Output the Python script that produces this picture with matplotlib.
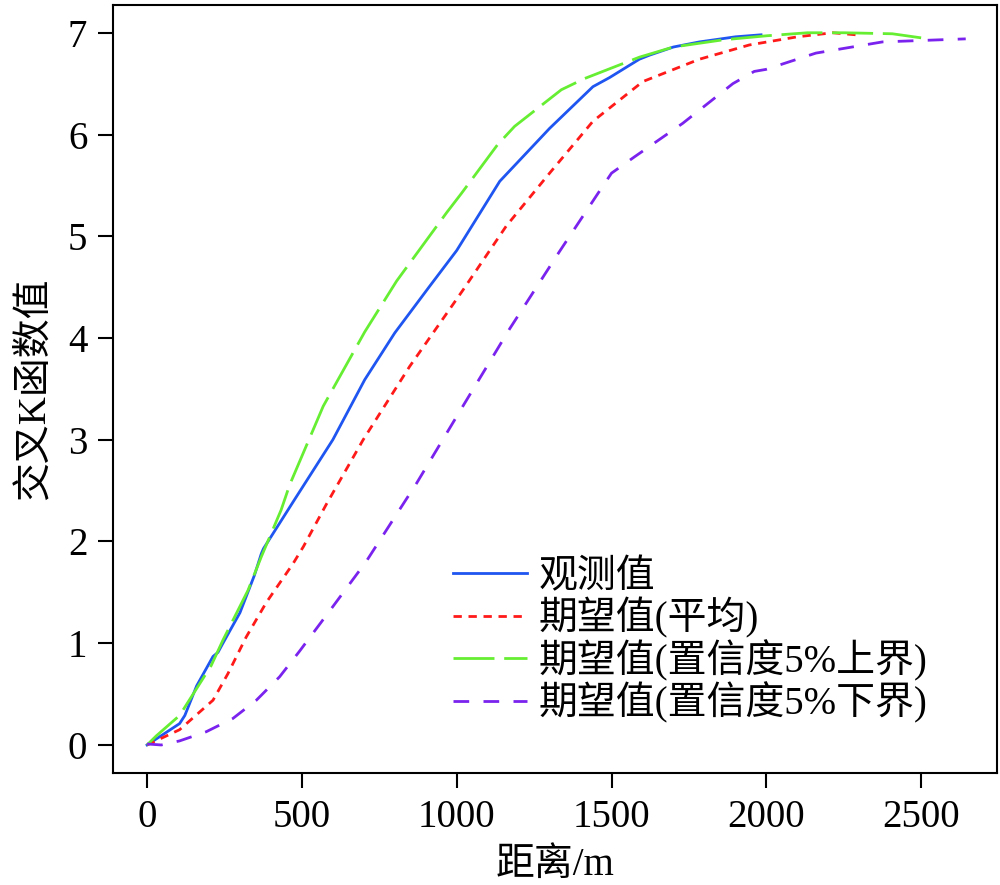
import numpy as np
import matplotlib
matplotlib.use("Agg")
import matplotlib.pyplot as plt

# ---- Data ---- #
obs_d = [0, 50, 105, 122, 160, 213, 229, 245, 300, 347, 369, 376, 476, 600, 703, 800,
         913, 1000, 1139, 1235, 1300, 1440, 1494, 1590, 1623, 1700, 1784, 1900, 1983]
obs_v = [0, 0.10, 0.21, 0.29, 0.58, 0.87, 0.91, 1.00, 1.30, 1.67, 1.88, 1.93, 2.41, 3.00,
         3.59, 4.05, 4.51, 4.86, 5.54, 5.85, 6.06, 6.47, 6.56, 6.74, 6.78, 6.86, 6.91, 6.96, 6.98]

mean_d = [0, 105, 213, 261, 320, 385, 471, 505, 578, 698, 848, 988, 1020, 1160, 1300,
          1440, 1601, 1784, 1945, 2100, 2214, 2289]
mean_v = [0, 0.15, 0.44, 0.70, 1.06, 1.40, 1.78, 1.95, 2.36, 3.00, 3.72, 4.33, 4.47, 5.10,
          5.62, 6.13, 6.52, 6.74, 6.88, 6.96, 7.00, 6.98]

up_d = [0, 30, 105, 207, 245, 326, 369, 433, 461, 569, 703, 806, 967, 1015, 1132, 1187,
        1338, 1413, 1590, 1700, 1859, 2000, 2133, 2250, 2407, 2500]
up_v = [0, 0.09, 0.29, 0.78, 1.03, 1.52, 1.85, 2.31, 2.56, 3.33, 4.06, 4.56, 5.23, 5.42,
        5.90, 6.08, 6.44, 6.55, 6.76, 6.86, 6.93, 6.97, 7.00, 7.00, 6.99, 6.95]

low_d = [0, 46, 105, 191, 277, 353, 428, 492, 600, 707, 836, 870, 1020, 1171, 1332, 1456,
         1500, 1574, 1730, 1892, 1961, 1999, 2160, 2375, 2644]
low_v = [0.01, 0.0, 0.04, 0.13, 0.26, 0.44, 0.67, 0.92, 1.36, 1.80, 2.41, 2.57, 3.33, 4.09,
         4.85, 5.42, 5.62, 5.78, 6.11, 6.50, 6.62, 6.64, 6.80, 6.91, 6.94]

labels = ["观测值", "期望值(平均)", "期望值(置信度5%上界)", "期望值(置信度5%下界)"]
xticks = [0, 500, 1000, 1500, 2000, 2500]
yticks = [0, 1, 2, 3, 4, 5, 6, 7]

# ---- Style ---- #
plt.rcParams['font.family'] = ['Liberation Serif', 'Noto Sans CJK SC']
plt.rcParams['font.size'] = 28
plt.rcParams['lines.scale_dashes'] = False

fig = plt.figure(figsize=(10, 8.85), dpi=100)
ax = fig.add_axes([0.113, 0.1266, 0.884, 0.868])

ax.plot(obs_d, obs_v, color="#1f55f0", lw=2, label=labels[0])
ax.plot(mean_d, mean_v, color="#ff1a1a", lw=2, linestyle=(0, (6.0, 4.8)),
        dash_capstyle='butt', label=labels[1])
ax.plot(up_d, up_v, color="#66ee33", lw=2, linestyle=(0, (29.5, 7.0)),
        dash_capstyle='butt', label=labels[2])
ax.plot(low_d, low_v, color="#7a22ee", lw=2, linestyle=(0, (11.3, 10.3)),
        dash_capstyle='butt', label=labels[3])

ax.set_xlim(-110, 2745)
ax.set_ylim(-0.275, 7.275)
ax.set_xticks(xticks)
ax.set_yticks(yticks)
ax.tick_params(direction='out', length=10.5, width=1.5, pad=8, labelsize=28)
for s in ax.spines.values():
    s.set_linewidth(1.5)

ax.set_xlabel("距离/m", fontsize=28, labelpad=8)
ax.set_ylabel("交叉K函数值", fontsize=28, labelpad=10)

ax.legend(loc='upper left', bbox_to_anchor=(0.453, 1 - 559 / 885),
          bbox_transform=fig.transFigure, frameon=False, fontsize=28,
          handlelength=1.9, handletextpad=0.31, labelspacing=0.03,
          borderpad=0, borderaxespad=0)

fig.savefig("out.png", dpi=100)
